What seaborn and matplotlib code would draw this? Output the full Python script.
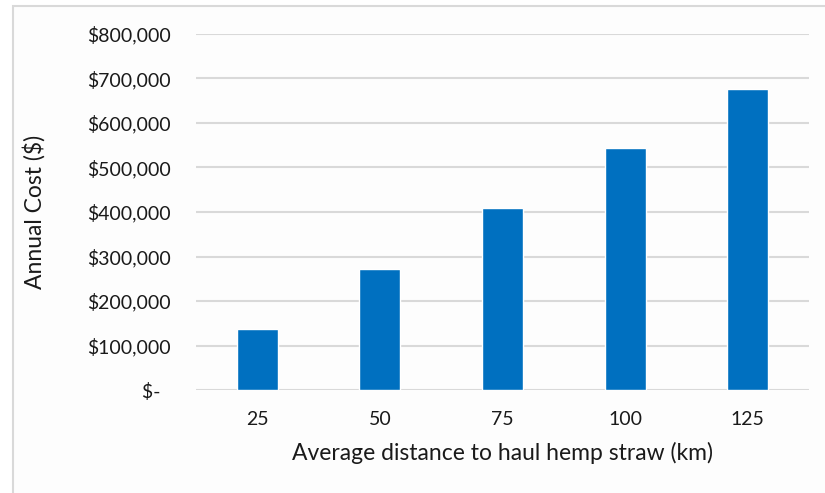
import matplotlib.pyplot as plt
import matplotlib.ticker as mticker
from matplotlib.patches import Rectangle
import seaborn as sns
import pandas as pd

distance = ['25', '50', '75', '100', '125']
annual_cost = [136000, 272000, 408000, 544000, 677000]

df = pd.DataFrame({"Distance": distance, "Cost": annual_cost})

sns.set_style("white")
plt.rcParams['font.family'] = ['Lato', 'DejaVu Sans']

fig = plt.figure(figsize=(8.25, 4.93), dpi=100)
fig.patch.set_facecolor('white')
# light frame around the chart area
fig.patches.append(Rectangle((13 / 825, -0.05), 1.1, 1 - 6 / 493 + 0.05,
                             transform=fig.transFigure, fill=True, zorder=-1,
                             facecolor='#fdfdfd', edgecolor='#d9d9d9', lw=1.5))

ax = fig.add_axes([196 / 825, 1 - 390 / 493, 613 / 825, 356 / 493])
ax.set_facecolor('#fdfdfd')
sns.barplot(x='Distance', y='Cost', data=df, color='#0070C0', width=0.335,
            saturation=1, ax=ax, zorder=3)

ax.set_ylim(0, 800000)
ax.set_xlim(-0.5, 4.5)
ax.yaxis.set_major_locator(mticker.MultipleLocator(100000))
ax.yaxis.set_major_formatter(mticker.FuncFormatter(
    lambda v, p: '$-  ' if v == 0 else '${:,.0f}'.format(v)))
ax.grid(axis='y', color='#d9d9d9', lw=1.5, zorder=0)
for s in ax.spines.values():
    s.set_visible(False)
ax.tick_params(length=0, labelsize=14, colors='#1a1a1a')
ax.tick_params(axis='y', pad=18)
ax.tick_params(axis='x', pad=15)

ax.set_xlabel('Average distance to haul hemp straw (km)', fontsize=16.5, color='#1a1a1a', labelpad=10)
ax.set_ylabel('Annual Cost ($)', fontsize=16.5, color='#1a1a1a', labelpad=30)

fig.savefig('out.png', dpi=100)
